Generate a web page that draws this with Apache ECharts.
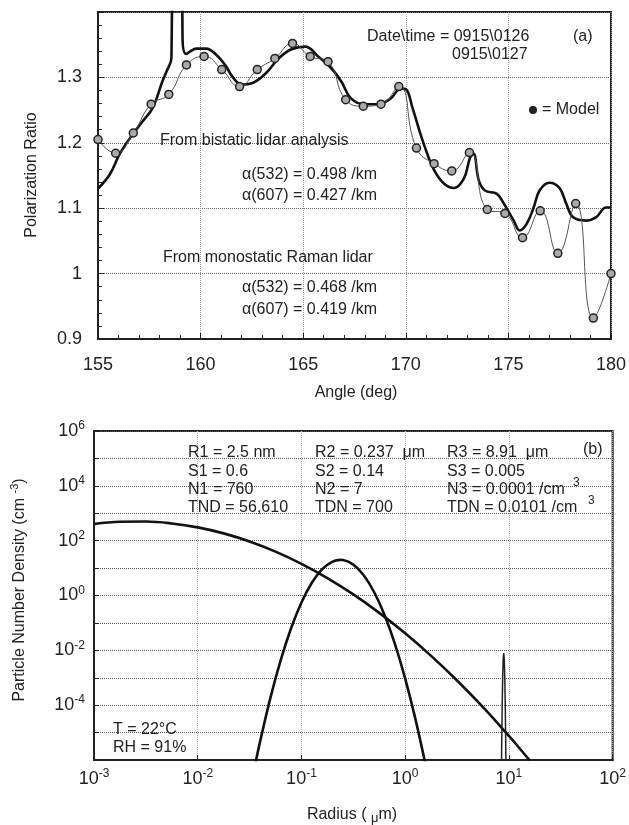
<!DOCTYPE html>
<html>
<head>
<meta charset="utf-8">
<script src="https://cdn.jsdelivr.net/npm/echarts/dist/echarts.min.js"></script>
<style>
  html, body { margin: 0; padding: 0; background: #fff; }
  #chart { width: 629px; height: 825px; }
</style>
</head>
<body>
<div id="chart"></div>
<script>
// (a) polarization ratio, thick line = bistatic lidar
const lidarAngle = [155.0, 155.58, 156.06, 156.69, 157.18, 157.66, 158.14, 158.34, 158.58, 158.84,
  159.12, 159.3, 159.79, 160.27, 160.75, 161.24, 161.53, 162.0, 162.5, 163.17,
  163.8, 164.43, 165.1, 165.73, 166.37, 166.85, 167.33, 168.0, 168.64, 169.27,
  169.75, 170.0, 170.33, 170.72, 171.05, 171.4, 171.88, 172.36, 172.84, 173.13,
  173.3, 173.56, 173.86, 174.44, 174.78, 175.26, 175.55, 175.89, 176.23, 176.52,
  177.0, 177.49, 177.82, 178.16, 178.79, 179.27, 179.76, 180.0];
const lidarRatio = [1.13, 1.152, 1.183, 1.213, 1.233, 1.253, 1.294, 1.309, 1.33, 2.6,
  1.36, 1.336, 1.344, 1.344, 1.335, 1.317, 1.302, 1.289, 1.291, 1.306,
  1.329, 1.343, 1.347, 1.332, 1.314, 1.294, 1.268, 1.259, 1.259, 1.268,
  1.283, 1.282, 1.253, 1.213, 1.183, 1.157, 1.137, 1.131, 1.146, 1.177,
  1.183, 1.142, 1.127, 1.122, 1.107, 1.081, 1.066, 1.076, 1.101, 1.127,
  1.139, 1.131, 1.107, 1.086, 1.081, 1.086, 1.101, 1.101];

// (a) model points
const modelAngle = [155, 155.86, 156.72, 157.59, 158.45, 159.31, 160.17, 161.03, 161.9, 162.76,
  163.62, 164.48, 165.34, 166.21, 167.07, 167.93, 168.79, 169.66, 170.52, 171.38,
  172.24, 173.1, 173.97, 174.83, 175.69, 176.55, 177.41, 178.28, 179.14, 180];
const modelRatio = [1.205, 1.184, 1.215, 1.259, 1.274, 1.319, 1.332, 1.312, 1.286, 1.312,
  1.329, 1.352, 1.332, 1.324, 1.266, 1.256, 1.259, 1.286, 1.192, 1.168,
  1.157, 1.185, 1.098, 1.092, 1.055, 1.096, 1.031, 1.107, 0.932, 1.0];

// (b) particle number density, three modes
const mode1Radius = [0.001, 0.001778, 0.003162, 0.005623, 0.01, 0.01778, 0.03162, 0.05623, 0.1, 0.1778,
  0.3162, 0.5623, 1, 1.778, 3.162, 5.623, 10, 12.59, 15.85];
const mode1Density = [405.6, 490, 498, 425.6, 305.5, 184.5, 93.5, 39.9, 14.3, 4.31,
  1.093, 0.2328, 0.0417, 6.27e-3, 7.94e-4, 8.44e-5, 7.55e-6, 2.74e-6, 9.66e-7];

const mode2Radius = [0.03548, 0.03981, 0.05012, 0.0631, 0.07943, 0.1, 0.1259, 0.1585, 0.1995, 0.237,
  0.2512, 0.3162, 0.3981, 0.5012, 0.631, 0.7943, 1, 1.259, 1.585];
const mode2Density = [5.8e-7, 4.48e-6, 1.81e-4, 4.38e-3, 0.0637, 0.555, 2.91, 9.16, 17.3, 19.95,
  19.63, 13.37, 5.465, 1.341, 0.1977, 0.0175, 9.29e-4, 2.96e-5, 5.67e-7];

const mode3Radius = [8.412, 8.509, 8.608, 8.707, 8.808, 8.91, 9.013, 9.118, 9.223, 9.33, 9.438];
const mode3Density = [3e-8, 2.68e-6, 8.87e-5, 1.08e-3, 4.84e-3, 7.98e-3, 4.84e-3, 1.08e-3, 8.87e-5, 2.68e-6, 3e-8];

const FONT = 'Arial, "Liberation Sans", sans-serif';
const INK = '#222';

function pairs(xs, ys) {
  return xs.map((x, i) => [x, ys[i]]);
}

function txt(text, x, y, size, align) {
  return {
    type: 'text', x: x, y: y, z: 20,
    style: { text: text, font: size + 'px ' + FONT, fill: INK, align: align || 'left', verticalAlign: 'middle' }
  };
}

// 10^n 标签
const powRich = {
  b: { fontSize: 18, fontFamily: FONT, color: INK },
  e: { fontSize: 12, fontFamily: FONT, color: INK, padding: [0, 0, 10, 0] }
};
function powLabel(v) {
  return '{b|10}{e|' + Math.round(Math.log10(v)) + '}';
}

const myChart = echarts.init(document.getElementById('chart'));

const option = {
  backgroundColor: '#fff',
  animation: false,
  grid: [
    { left: 98, top: 12, width: 517, height: 327, show: true, borderColor: INK, borderWidth: 2 },
    { left: 94, top: 431, width: 519, height: 329, show: true, borderColor: INK, borderWidth: 2 }
  ],
  xAxis: [
    {
      type: 'value', gridIndex: 0, min: 155, max: 180, interval: 5,
      axisLine: { lineStyle: { color: INK, width: 2 } },
      axisTick: { inside: true, length: 6, lineStyle: { color: INK } },
      minorTick: { show: true, splitNumber: 5, length: 4, lineStyle: { color: INK } },
      axisLabel: { fontSize: 18, fontFamily: FONT, color: INK, margin: 17 },
      splitLine: { show: true, lineStyle: { type: 'dotted', color: '#999' } }
    },
    {
      type: 'log', logBase: 10, gridIndex: 1, min: 0.001, max: 100, interval: 1,
      axisLine: { lineStyle: { color: INK, width: 2 } },
      axisTick: { inside: true, length: 5, lineStyle: { color: INK } },
      axisLabel: { margin: 8, formatter: powLabel, rich: powRich },
      splitLine: { show: true, lineStyle: { type: 'dotted', color: '#aaa' } }
    }
  ],
  yAxis: [
    {
      type: 'value', gridIndex: 0, min: 0.9, max: 1.4, interval: 0.1,
      axisLine: { show: true, lineStyle: { color: INK, width: 2 } },
      axisTick: { inside: true, length: 6, lineStyle: { color: INK } },
      minorTick: { show: true, splitNumber: 5, length: 4, lineStyle: { color: INK } },
      axisLabel: {
        fontSize: 18, fontFamily: FONT, color: INK, margin: 16,
        formatter: v => (v > 1.35 ? '' : String(+v.toFixed(1)))
      },
      splitLine: { show: true, lineStyle: { type: 'dotted', color: '#666' } }
    },
    {
      type: 'log', logBase: 10, gridIndex: 1, min: 1e-6, max: 1e6, interval: 1,
      axisLine: { show: true, lineStyle: { color: INK, width: 2 } },
      axisTick: { inside: true, length: 5, lineStyle: { color: INK } },
      axisLabel: {
        margin: 9, rich: powRich,
        formatter: v => {
          let e = Math.round(Math.log10(v));
          return (e % 2 !== 0 || e === -6) ? '' : powLabel(v);
        }
      },
      splitLine: { show: true, lineStyle: { type: 'dotted', color: '#555' } }
    }
  ],
  series: [
    {
      name: 'lidar', type: 'line', xAxisIndex: 0, yAxisIndex: 0,
      data: pairs(lidarAngle, lidarRatio),
      smooth: 0.4, showSymbol: false, clip: true,
      lineStyle: { color: '#111', width: 2.6 }, z: 3
    },
    {
      name: 'Model', type: 'line', xAxisIndex: 0, yAxisIndex: 0,
      data: pairs(modelAngle, modelRatio),
      smooth: 0.5, clip: true,
      symbol: 'circle', symbolSize: 8,
      itemStyle: { color: '#aaa', borderColor: '#222', borderWidth: 1.5 },
      lineStyle: { color: '#555', width: 1 }, z: 4
    },
    {
      name: 'mode1', type: 'line', xAxisIndex: 1, yAxisIndex: 1,
      data: pairs(mode1Radius, mode1Density),
      smooth: 0.4, showSymbol: false, clip: true,
      lineStyle: { color: '#111', width: 2.6 }
    },
    {
      name: 'mode2', type: 'line', xAxisIndex: 1, yAxisIndex: 1,
      data: pairs(mode2Radius, mode2Density),
      smooth: 0.4, showSymbol: false, clip: true,
      lineStyle: { color: '#111', width: 2.6 }
    },
    {
      name: 'mode3', type: 'line', xAxisIndex: 1, yAxisIndex: 1,
      data: pairs(mode3Radius, mode3Density),
      showSymbol: false, clip: true,
      lineStyle: { color: '#222', width: 1.5 }
    }
  ],
  graphic: {
    elements: [
      // 轴标题
      { type: 'text', x: 32, y: 175, rotation: Math.PI / 2, z: 20,
        style: { text: 'Polarization Ratio', font: '16px ' + FONT, fill: INK, align: 'center', verticalAlign: 'middle' } },
      txt('Angle (deg)', 356, 393, 16, 'center'),
      { type: 'text', x: 20, y: 590, rotation: Math.PI / 2, z: 20,
        style: {
          text: 'Particle Number Density (cm {s|-3})', font: '16px ' + FONT, fill: INK,
          align: 'center', verticalAlign: 'middle',
          rich: { s: { fontSize: 11, fontFamily: FONT, color: INK, padding: [0, 0, 10, 0] } }
        } },
      { type: 'text', x: 352, y: 815, z: 20,
        style: {
          text: 'Radius ( {u|\u03bc}m)', font: '16px ' + FONT, fill: INK,
          align: 'center', verticalAlign: 'middle',
          rich: { u: { fontSize: 13, fontFamily: FONT, color: INK, padding: [6, 0, 0, 0] } }
        } },

      // (a) 注释
      txt('Date\\time = 0915\\0126', 367, 37, 16),
      txt('0915\\0127', 452, 55, 16),
      txt('(a)', 573, 37, 16),
      { type: 'circle', z: 20, shape: { cx: 533, cy: 110, r: 4 }, style: { fill: INK } },
      txt('= Model', 542, 110, 16),
      txt('From bistatic lidar analysis', 160, 141, 16),
      txt('\u03b1(532) = 0.498 /km', 242, 175, 16),
      txt('\u03b1(607) = 0.427 /km', 242, 196, 16),
      txt('From monostatic Raman lidar', 163, 258, 16),
      txt('\u03b1(532) = 0.468 /km', 242, 288, 16),
      txt('\u03b1(607) = 0.419 /km', 242, 310, 16),

      // (b) 注释
      txt('R1 = 2.5 nm', 188, 453, 16),
      txt('S1 = 0.6', 188, 472, 16),
      txt('N1 = 760', 188, 490, 16),
      txt('TND = 56,610', 188, 508, 16),
      txt('R2 = 0.237  \u03bcm', 315, 453, 16),
      txt('S2 = 0.14', 315, 472, 16),
      txt('N2 = 7', 315, 490, 16),
      txt('TDN = 700', 315, 508, 16),
      txt('R3 = 8.91  \u03bcm', 447, 453, 16),
      txt('S3 = 0.005', 447, 472, 16),
      txt('N3 = 0.0001 /cm', 447, 490, 16),
      txt('3', 573, 483, 12),
      txt('TDN = 0.0101 /cm', 447, 508, 16),
      txt('3', 588, 501, 12),
      txt('(b)', 583, 450, 16),
      txt('T = 22\u00b0C', 113, 730, 16),
      txt('RH = 91%', 113, 748, 16)
    ]
  }
};

myChart.setOption(option);
</script>
</body>
</html>
